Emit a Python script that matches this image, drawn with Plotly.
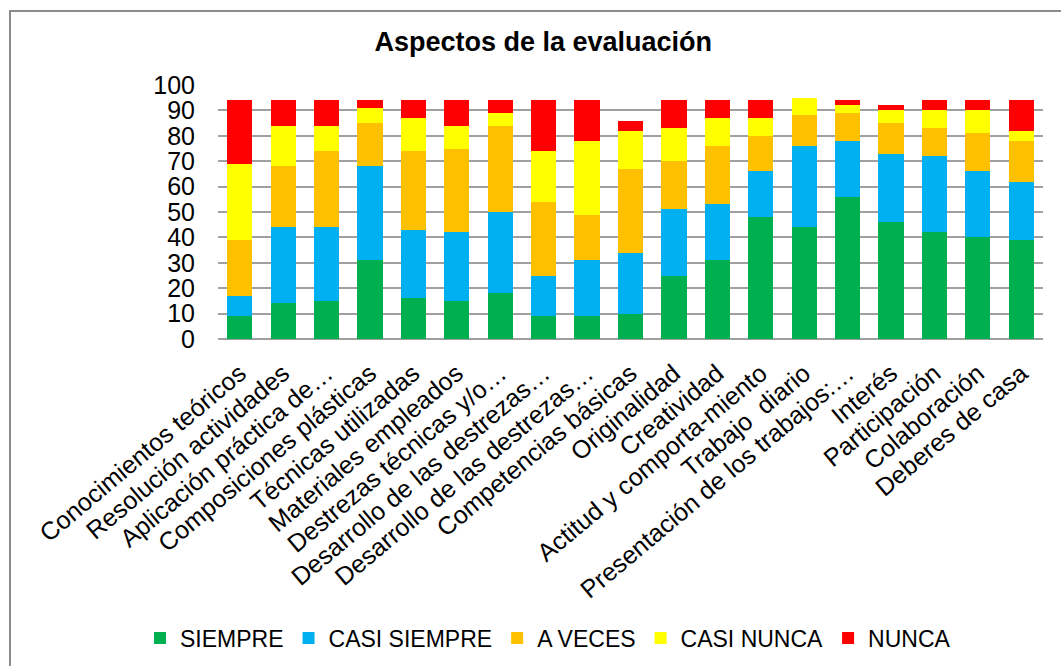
import plotly.graph_objects as go

# ── Data ──────────────────────────────────────────────────────────────────────
CATEGORIES = [
    "Conocimientos teóricos",
    "Resolución actividades",
    "Aplicación práctica de…",
    "Composiciones plásticas",
    "Técnicas utilizadas",
    "Materiales empleados",
    "Destrezas técnicas y/o…",
    "Desarrollo de las destrezas…",
    "Desarrollo de las destrezas…",
    "Competencias básicas",
    "Originalidad",
    "Creatividad",
    "Actitud y comporta-miento",
    "Trabajo \u00a0diario",
    "Presentación de los trabajos:…",
    "Interés",
    "Participación",
    "Colaboración",
    "Deberes de casa",
]

SIEMPRE      = [9, 14, 15, 31, 16, 15, 18, 9, 9, 10, 25, 31, 48, 44, 56, 46, 42, 40, 39]
CASI_SIEMPRE = [8, 30, 29, 37, 27, 27, 32, 16, 22, 24, 26, 22, 18, 32, 22, 27, 30, 26, 23]
A_VECES      = [22, 24, 30, 17, 31, 33, 34, 29, 18, 33, 19, 23, 14, 12, 11, 12, 11, 15, 16]
CASI_NUNCA   = [30, 16, 10, 6, 13, 9, 5, 20, 29, 15, 13, 11, 7, 7, 3, 5, 7, 9, 4]
NUNCA        = [25, 10, 10, 3, 7, 10, 5, 20, 16, 4, 11, 7, 7, 0, 2, 2, 4, 4, 12]

SERIES = [
    ("SIEMPRE", SIEMPRE, "#00B050"),
    ("CASI SIEMPRE", CASI_SIEMPRE, "#00B0F0"),
    ("A VECES", A_VECES, "#FFC000"),
    ("CASI NUNCA", CASI_NUNCA, "#FFFF00"),
    ("NUNCA", NUNCA, "#FF0000"),
]

Y_TICKS = list(range(0, 101, 10))

FONT = "Arial, 'Liberation Sans', sans-serif"
GRID = "#A0A0A0"

# categories repeat, so place bars by index and label the ticks
xpos = list(range(len(CATEGORIES)))

fig = go.Figure()
for name, vals, color in SERIES:
    fig.add_trace(go.Bar(
        x=xpos, y=vals, name=name,
        marker=dict(color=color, line=dict(width=0)),
    ))

# outer chart border (right/bottom fall outside the picture)
fig.add_shape(
    type="rect", xref="paper", yref="paper",
    xsizemode="pixel", ysizemode="pixel",
    xanchor=0, yanchor=1,
    x0=-208, x1=860, y0=-600, y1=74,
    line=dict(color="#8C8C8C", width=2),
    fillcolor="rgba(0,0,0,0)",
    layer="below",
)

fig.update_layout(
    width=1061, height=666,
    barmode="stack",
    bargap=0.42,
    paper_bgcolor="white",
    plot_bgcolor="white",
    margin=dict(l=218, r=18, t=85, b=327, autoexpand=False),
    font=dict(family=FONT, color="black"),
    title=dict(
        text="<b>Aspectos de la evaluación</b>",
        font=dict(family=FONT, size=27, color="black"),
        x=0.512, xanchor="center",
        y=1 - 42 / 666, yanchor="middle",
    ),
    xaxis=dict(
        tickvals=xpos, ticktext=CATEGORIES,
        range=[-0.5, len(CATEGORIES) - 0.5],
        tickangle=-40,
        tickfont=dict(size=25),
        showgrid=False, zeroline=False,
        showline=False, ticks="",
        ticklabelstandoff=14,
        automargin=False,
    ),
    yaxis=dict(
        range=[0, 100],
        tickvals=Y_TICKS,
        tickfont=dict(size=25),
        showgrid=True, gridcolor=GRID, gridwidth=2,
        zeroline=True, zerolinecolor=GRID, zerolinewidth=2,
        showline=False, ticks="",
        ticklabelstandoff=22,
        automargin=False,
    ),
    legend=dict(
        orientation="h",
        xref="container", yref="container",
        x=548 / 1061, xanchor="center",
        y=1 - 638 / 666, yanchor="middle",
        font=dict(size=23),
        traceorder="normal",
        itemwidth=30,
    ),
)

# drop the page's default body margin so the figure sits at the window corner
fig.write_html(
    "out.html",
    config={"displayModeBar": False},
    post_script="document.body.style.margin='0';",
)
